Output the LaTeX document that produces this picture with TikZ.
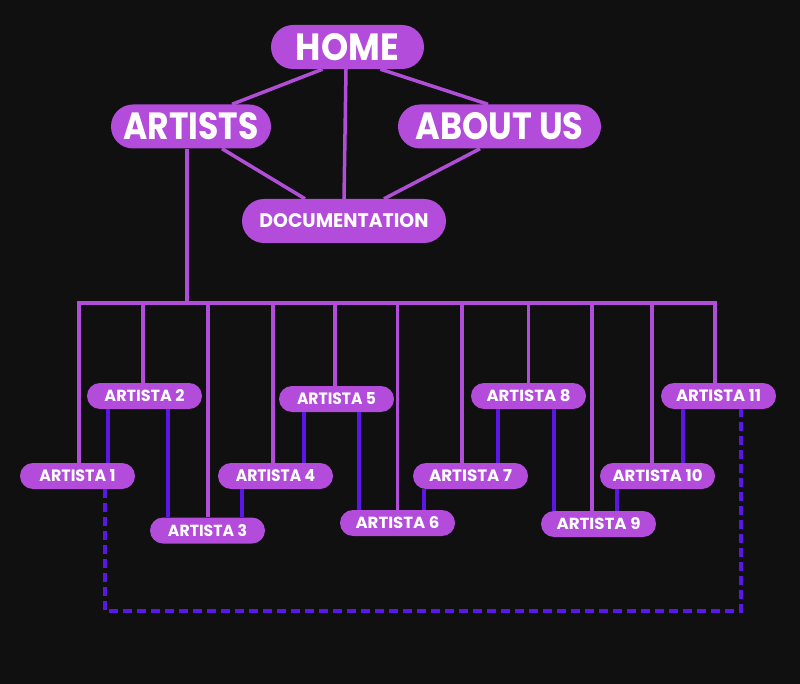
\documentclass[tikz,border=0pt]{standalone}
\usepackage{fontspec}
\usepackage{graphicx}
\setmainfont{Poppins}
\usetikzlibrary{calc}
\definecolor{bgc}{HTML}{101010}
\definecolor{pillc}{HTML}{B34BDB}
\definecolor{plc}{HTML}{B04ED8}
\definecolor{blc}{HTML}{5B17E8}
\newcommand\fittext[3]{\resizebox{#1pt}{#2pt}{\bfseries #3}}
\tikzset{
  pill/.style={fill=pillc, inner sep=0pt, text=white, draw=none},
  bigpill/.style={pill, minimum height=44pt, rounded corners=22pt},
  artpill/.style={pill, minimum width=115pt, minimum height=26pt, rounded corners=13pt},
  pl/.style={draw=plc, line width=3.5pt},
  bl/.style={draw=blc, line width=3.5pt},
  dsh/.style={bl, dash pattern=on 9pt off 5pt}
}
\begin{document}
\begin{tikzpicture}[x=1pt,y=-1pt]
\fill[bgc] (0,0) rectangle (800,684);
\useasboundingbox (0,0) rectangle (800,684);
\coordinate (bus) at (0,303);
\coordinate (dashy) at (0,611);

\node[bigpill, minimum width=153pt] (home) at (347.5,47) {\fittext{103}{27}{HOME}};
\node[bigpill, minimum width=160pt] (artists) at (191,126.5) {\fittext{135}{27}{ARTISTS}};
\node[bigpill, minimum width=203pt] (about) at (499.5,126.5) {\fittext{168}{27}{ABOUT US}};
\node[bigpill, minimum width=204pt] (doc) at (344,221) {\fittext{169}{14}{DOCUMENTATION}};

\node[artpill] (a1) at (77.5,476) {\fittext{76}{12}{ARTISTA 1}};
\node[artpill] (a2) at (144.5,396) {\fittext{80}{12}{ARTISTA 2}};
\node[artpill] (a3) at (207.5,530.5) {\fittext{79}{12}{ARTISTA 3}};
\node[artpill] (a4) at (275.5,476) {\fittext{79}{12}{ARTISTA 4}};
\node[artpill] (a5) at (336.5,399) {\fittext{79}{12}{ARTISTA 5}};
\node[artpill] (a6) at (397.5,523) {\fittext{84}{12}{ARTISTA 6}};
\node[artpill] (a7) at (470.5,476) {\fittext{83}{12}{ARTISTA 7}};
\node[artpill] (a8) at (528.5,396) {\fittext{84}{12}{ARTISTA 8}};
\node[artpill] (a9) at (598.5,524) {\fittext{84}{12}{ARTISTA 9}};
\node[artpill] (a10) at (657.5,476) {\fittext{90}{12}{ARTISTA 10}};
\node[artpill] (a11) at (718.5,396) {\fittext{85}{12}{ARTISTA 11}};

% top connectors
\draw[pl] ([xshift=-25pt]home.south) -- ([xshift=41pt]artists.north);
\draw[pl] ([xshift=-1.5pt]home.south) -- (doc.north);
\draw[pl] ([xshift=33pt]home.south) -- ([xshift=-11.5pt]about.north);
\draw[pl] ([xshift=31pt]artists.south) -- ([xshift=-39pt]doc.north);
\draw[pl] ([xshift=-19.5pt]about.south) -- ([xshift=40pt]doc.north);
\draw[pl] ([xshift=-4pt]artists.south) -- ([xshift=-4pt]artists.south |- bus);

% bus
\draw[pl] ([xshift=1.5pt]a1.north) -- ([xshift=1.5pt]a1.north |- bus) -- ([xshift=-3.5pt]a11.north |- bus) -- ([xshift=-3.5pt]a11.north);
\draw[pl] ([xshift=-1.5pt]a2.north) -- ([xshift=-1.5pt]a2.north |- bus);
\draw[pl] ([xshift=0.5pt]a3.north) -- ([xshift=0.5pt]a3.north |- bus);
\draw[pl] ([xshift=-2.5pt]a4.north) -- ([xshift=-2.5pt]a4.north |- bus);
\draw[pl] ([xshift=-1.5pt]a5.north) -- ([xshift=-1.5pt]a5.north |- bus);
\draw[pl] (a6.north) -- (a6.north |- bus);
\draw[pl] ([xshift=-8.5pt]a7.north) -- ([xshift=-8.5pt]a7.north |- bus);
\draw[pl] (a8.north) -- (a8.north |- bus);
\draw[pl] ([xshift=-6.5pt]a9.north) -- ([xshift=-6.5pt]a9.north |- bus);
\draw[pl] ([xshift=-5.5pt]a10.north) -- ([xshift=-5.5pt]a10.north |- bus);

% blue links
\draw[bl] ([xshift=-36.5pt]a2.south) -- ([xshift=-36.5pt]a2.south |- a1.north);
\draw[bl] ([xshift=23.5pt]a2.south) -- ([xshift=23.5pt]a2.south |- a3.north);
\draw[bl] ([xshift=-32.5pt]a5.south) -- ([xshift=-32.5pt]a5.south |- a4.north);
\draw[bl] ([xshift=-33.5pt]a4.south) -- ([xshift=-33.5pt]a4.south |- a3.north);
\draw[bl] ([xshift=22.5pt]a5.south) -- ([xshift=22.5pt]a5.south |- a6.north);
\draw[bl] ([xshift=-46.5pt]a7.south) -- ([xshift=-46.5pt]a7.south |- a6.north);
\draw[bl] ([xshift=-30.5pt]a8.south) -- ([xshift=-30.5pt]a8.south |- a7.north);
\draw[bl] ([xshift=25.5pt]a8.south) -- ([xshift=25.5pt]a8.south |- a9.north);
\draw[bl] ([xshift=-35.5pt]a11.south) -- ([xshift=-35.5pt]a11.south |- a10.north);
\draw[bl] ([xshift=-40.5pt]a10.south) -- ([xshift=-40.5pt]a10.south |- a9.north);
\draw[dsh] ([xshift=27.5pt]a1.south) -- ([xshift=27.5pt]a1.south |- dashy) -- ([xshift=22.5pt]a11.south |- dashy) -- ([xshift=22.5pt]a11.south);
\end{tikzpicture}
\end{document}
